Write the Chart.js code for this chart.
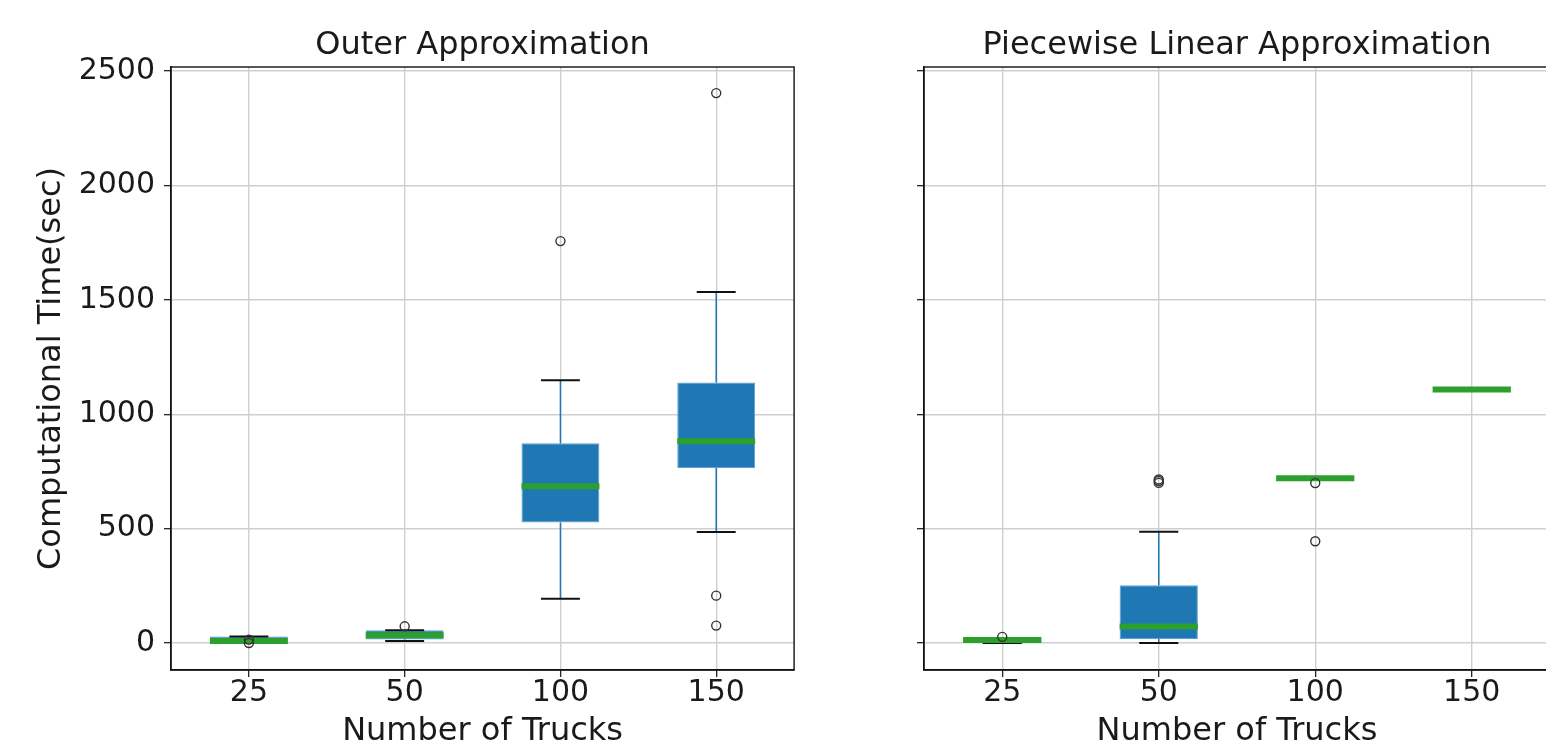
<!DOCTYPE html>
<html><head><meta charset="utf-8">
<script src="https://cdn.jsdelivr.net/npm/chart.js@4/dist/chart.umd.min.js"></script>
<style>
html,body{margin:0;padding:0;background:#fff;overflow:hidden;width:1546px;height:744px;position:relative;}
.c{position:absolute;top:0;}
canvas{display:block;}
</style></head><body>
<div class="c" style="left:0;width:800px;height:744px"><canvas id="left" width="800" height="744" style="width:800px;height:744px"></canvas></div>
<div class="c" style="left:800px;width:760px;height:744px"><canvas id="right" width="760" height="744" style="width:760px;height:744px"></canvas></div>
<script>
// ---- data ----
const CATEGORIES = ['25', '50', '100', '150'];
const POSITIONS = [1, 2, 3, 4];
const Y_TICKS = [0, 500, 1000, 1500, 2000, 2500];
const Y_MIN = -118, Y_MAX = 2518;

// Outer Approximation
const OUTER_LO  = [0, 9, 193, 485];
const OUTER_Q1  = [2, 15, 527, 765];
const OUTER_MED = [9, 34, 685, 882];
const OUTER_Q3  = [28, 56, 873, 1139];
const OUTER_HI  = [28, 56, 1149, 1534];
const OUTER_FLIERS = [[0, 15], [73], [1757], [2404, 207, 76]];

// Piecewise Linear Approximation
const PWL_LO  = [0, 0, 720, 1108];
const PWL_Q1  = [0, 17, 720, 1108];
const PWL_MED = [13, 72, 720, 1108];
const PWL_Q3  = [20, 252, 720, 1108];
const PWL_HI  = [20, 486, 720, 1108];
const PWL_FLIERS = [[27], [700, 708, 715], [699, 445], []];

// ---- styles ----
const BOX_HALF = 0.25, CAP_HALF = 0.125;
const BLUE = '#1f77b4', GREEN = '#2ca02c';
const FONT = 'DejaVu Sans';
const TEXT = '#1a1a1a';

function boxDatasets(lo, q1, med, q3, hi, fliers) {
  const whisk = [], caps = [], meds = [], outs = [];
  POSITIONS.forEach((p, i) => {
    whisk.push({x: p, y: q3[i]}, {x: p, y: hi[i]}, {x: p, y: null},
               {x: p, y: q1[i]}, {x: p, y: lo[i]}, {x: p, y: null});
    caps.push({x: p - CAP_HALF, y: hi[i]}, {x: p + CAP_HALF, y: hi[i]}, {x: p, y: null},
              {x: p - CAP_HALF, y: lo[i]}, {x: p + CAP_HALF, y: lo[i]}, {x: p, y: null});
    meds.push({x: p - BOX_HALF, y: med[i]}, {x: p + BOX_HALF, y: med[i]}, {x: p, y: null});
    fliers[i].forEach(v => outs.push({x: p, y: v}));
  });
  return [
    {type: 'bar', order: 5, xAxisID: 'x', yAxisID: 'y',
     data: POSITIONS.map((p, i) => ({x: p, y: [q1[i], q3[i]]})),
     backgroundColor: BLUE, borderColor: '#5b9fd3', borderWidth: 1, borderSkipped: false,
     barPercentage: 0.5, categoryPercentage: 1},
    {type: 'line', order: 4, xAxisID: 'x', yAxisID: 'y', data: whisk,
     borderColor: BLUE, borderWidth: 1.5, pointRadius: 0, spanGaps: false, fill: false},
    {type: 'line', order: 3, xAxisID: 'x', yAxisID: 'y', data: caps,
     borderColor: '#111', borderWidth: 2, pointRadius: 0, spanGaps: false, fill: false},
    {type: 'line', order: 2, xAxisID: 'x', yAxisID: 'y', data: meds,
     borderColor: GREEN, borderWidth: 6, borderCapStyle: 'butt', pointRadius: 0, spanGaps: false, fill: false},
    {type: 'scatter', order: 1, xAxisID: 'x', yAxisID: 'y', data: outs, showLine: false,
     pointStyle: 'circle', pointRadius: 4.5, pointBorderWidth: 1.4,
     pointBorderColor: '#333', pointBackgroundColor: 'rgba(0,0,0,0)'}
  ];
}

const framePlugin = {
  id: 'frame',
  afterDraw(chart) {
    const a = chart.chartArea, ctx = chart.ctx;
    ctx.save();
    ctx.strokeStyle = '#111';
    ctx.lineWidth = 1.4;
    ctx.strokeRect(a.left, a.top, a.right - a.left, a.bottom - a.top);
    ctx.restore();
  }
};

function makeChart(id, title, datasets, showY, yWidth, padRight) {
  const scales = {
    x: {
      type: 'linear', position: 'bottom', min: 0.5, max: 4.5, offset: false,
      afterBuildTicks: s => { s.ticks = POSITIONS.map(v => ({value: v})); },
      afterFit: s => { s.height = 74; },
      ticks: {callback: v => { const i = POSITIONS.indexOf(v); return i >= 0 ? CATEGORIES[i] : ''; },
              color: TEXT, font: {family: FONT, size: 30, lineHeight: 1.1}, padding: 0,
              maxRotation: 0, autoSkip: false},
      grid: {offset: false, color: '#cfcfcf', lineWidth: 1.4, tickColor: '#111', tickLength: 7, tickWidth: 1.2},
      border: {color: '#111', width: 1.4},
      title: {display: true, text: 'Number of Trucks', color: TEXT,
              font: {family: FONT, size: 32, lineHeight: 0.8}, padding: {top: 0, bottom: 0}}
    },
    xTop: {
      type: 'linear', position: 'top', min: 0, max: 1, offset: false,
      afterFit: s => { s.height = 67; },
      ticks: {display: false}, grid: {display: false, drawTicks: false}, border: {display: false},
      title: {display: true, text: title, color: TEXT,
              font: {family: FONT, size: 32, lineHeight: 1.2}, padding: {top: 26, bottom: 0}}
    },
    y: {
      type: 'linear', position: 'left', min: Y_MIN, max: Y_MAX,
      afterBuildTicks: s => { s.ticks = Y_TICKS.map(v => ({value: v})); },
      afterFit: s => { s.width = yWidth; },
      ticks: {display: showY, color: TEXT, font: {family: FONT, size: 30}, padding: 9,
              callback: v => String(v)},
      grid: {color: '#cfcfcf', lineWidth: 1.4, tickColor: '#111', tickLength: 7, tickWidth: 1.2},
      border: {color: '#111', width: 1.4},
      title: {display: showY, text: 'Computational Time(sec)', color: TEXT,
              font: {family: FONT, size: 32, lineHeight: 1.2}, padding: {top: 32, bottom: 0}}
    }
  };
  return new Chart(document.getElementById(id), {
    type: 'bar',
    data: {datasets},
    options: {
      responsive: false, animation: false, devicePixelRatio: 1,
      layout: {padding: {left: 0, top: 0, bottom: 0, right: padRight}},
      plugins: {legend: {display: false}, tooltip: {enabled: false}, title: {display: false}},
      scales
    },
    plugins: [framePlugin]
  });
}

makeChart('left', 'Outer Approximation',
  boxDatasets(OUTER_LO, OUTER_Q1, OUTER_MED, OUTER_Q3, OUTER_HI, OUTER_FLIERS), true, 171, 3);
makeChart('right', 'Piecewise Linear Approximation',
  boxDatasets(PWL_LO, PWL_Q1, PWL_MED, PWL_Q3, PWL_HI, PWL_FLIERS), false, 124, 10);
</script>
</body></html>
